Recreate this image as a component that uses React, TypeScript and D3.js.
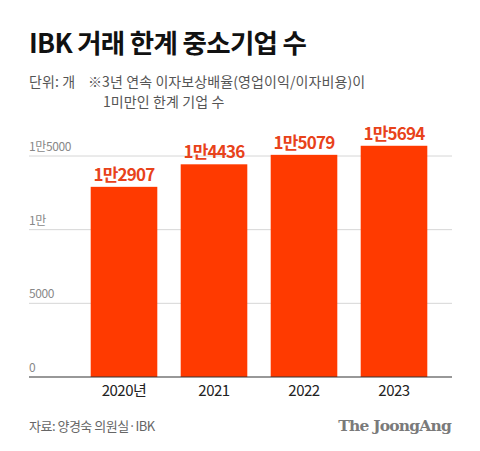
import React from "react";
import * as d3 from "d3";

const years = ["2020", "2021", "2022", "2023"];
const yearLabels = ["2020년", "2021", "2022", "2023"];
const counts = [12907, 14436, 15079, 15694];
const valueLabels = ["1만2907", "1만4436", "1만5079", "1만5694"];
const yTicks = [0, 5000, 10000, 15000];
const yTickLabels = ["0", "5000", "1만", "1만5000"];

const W = 480;
const H = 451;
const FONT = "'Noto Sans CJK KR', 'Noto Sans', sans-serif";

export default function App() {
  const x = d3.scaleBand<string>()
    .domain(years)
    .range([79, 439])
    .paddingInner(0.26)
    .paddingOuter(0.13);

  const y = d3.scaleLinear().domain([0, 15000]).range([377, 156]);

  return (
    <svg width={W} height={H} style={{ position: "absolute", left: 0, top: 0, background: "#fff" }}>
      <rect width={W} height={H} fill="#fff" />
      {/* title */}
      <text x={29} y={53} fontFamily={FONT} fontWeight={700} fontSize={26.5} fill="#111" letterSpacing={-0.7}>
        IBK 거래 한계 중소기업 수
      </text>
      <text fontFamily={FONT} fontSize={14} fill="#555" letterSpacing={0.1}>
        <tspan x={29} y={86.5}>단위: 개</tspan>
        <tspan x={88} y={86.5}>※3년 연속 이자보상배율(영업이익/이자비용)이</tspan>
      </text>
      <text x={103} y={107} fontFamily={FONT} fontSize={14} fill="#555" letterSpacing={0.1}>
        1미만인 한계 기업 수
      </text>

      {/* gridlines + y ticks */}
      {yTicks.map((t, i) => (
        <g key={t}>
          {t > 0 && (
            <line x1={29} x2={452} y1={y(t)} y2={y(t)} stroke="#d6d6d6" strokeWidth={1} />
          )}
          <text x={29} y={y(t) - 5} fontFamily={FONT} fontSize={12} fill="#888" letterSpacing={-0.4}>
            {yTickLabels[i]}
          </text>
        </g>
      ))}

      {/* bars */}
      {years.map((yr, i) => (
        <g key={yr}>
          <rect
            x={x(yr)}
            y={y(counts[i])}
            width={x.bandwidth()}
            height={y(0) - y(counts[i])}
            fill="#ff3a00"
          />
          <text
            x={(x(yr) ?? 0) + x.bandwidth() / 2}
            y={y(counts[i]) - 6}
            textAnchor="middle"
            fontFamily={FONT}
            fontWeight={700}
            fontSize={17}
            fill="#e8421a"
            letterSpacing={-0.8}
          >
            {valueLabels[i]}
          </text>
          <text
            x={(x(yr) ?? 0) + x.bandwidth() / 2}
            y={y(0) + 19}
            textAnchor="middle"
            fontFamily={FONT}
            fontSize={15}
            fill="#222"
            letterSpacing={-0.5}
          >
            {yearLabels[i]}
          </text>
        </g>
      ))}

      {/* baseline */}
      <line x1={29} x2={452} y1={y(0)} y2={y(0)} stroke="#333" strokeWidth={1.2} />

      {/* footer */}
      <text x={29} y={431} fontFamily={FONT} fontSize={13} fill="#666" letterSpacing={-0.5}>
        자료: 양경숙 의원실·IBK
      </text>
      <text
        x={451}
        y={431}
        textAnchor="end"
        fontFamily="'DejaVu Serif', 'Liberation Serif', serif"
        fontWeight={700}
        fontSize={15.5}
        fill="#7a7a7a"
        letterSpacing={-0.8}
      >
        The JoongAng
      </text>
    </svg>
  );
}
